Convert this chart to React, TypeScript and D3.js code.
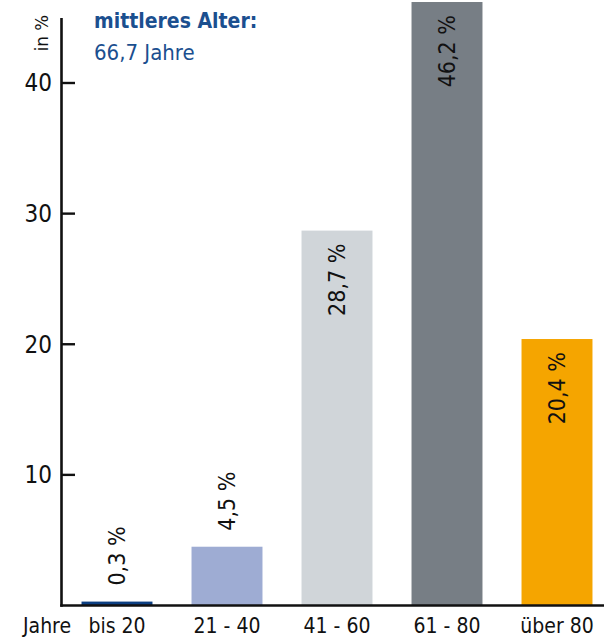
import React from "react";
import * as d3 from "d3";

// Altersverteilung in Prozent
const categories: string[] = ["bis 20", "21 - 40", "41 - 60", "61 - 80", "über 80"];
const values: number[] = [0.3, 4.5, 28.7, 46.2, 20.4];
const valueLabels: string[] = ["0,3 %", "4,5 %", "28,7 %", "46,2 %", "20,4 %"];
const colors: string[] = ["#0c3f82", "#9eacd3", "#d0d5d9", "#777e85", "#f5a500"];
const yTicks: number[] = [10, 20, 30, 40];
const titleLines: string[] = ["mittleres Alter:", "66,7 Jahre"];
const unitLabel = "in %";
const xAxisTitle = "Jahre";

const W = 604;
const H = 640;
const FONT = "'Liberation Sans Narrow', 'DejaVu Sans Condensed', 'DejaVu Sans', sans-serif";

export default function App() {
  const y = d3.scaleLinear().domain([0, 40]).range([605.5, 83]);
  const x = d3
    .scaleBand<string>()
    .domain(categories)
    .range([62, 612])
    .paddingInner(0.355)
    .paddingOuter(0.1775);
  const axisX = 61.5;
  const y0 = y(0);

  return (
    <svg
      width={W}
      height={H}
      style={{ position: "absolute", left: 0, top: 0, background: "#fff" }}
      fontFamily={FONT}
      fontStretch="condensed"
    >
      {/* bars */}
      {categories.map((c, i) => (
        <rect
          key={c}
          x={x(c)}
          y={y(values[i])}
          width={x.bandwidth()}
          height={y0 - y(values[i])}
          fill={colors[i]}
        />
      ))}

      {/* value labels, rotated; small bars get them above, tall bars inside */}
      {categories.map((c, i) => {
        const cx = (x(c) as number) + x.bandwidth() / 2;
        const top = y(values[i]);
        const inside = values[i] > 10;
        const py = inside ? top + 13 : top - 16;
        return (
          <text
            key={c + "-lbl"}
            transform={`translate(${cx + 8},${py}) rotate(-90)`}
            textAnchor={inside ? "end" : "start"}
            fontSize={23}
            fill="#111"
          >
            {valueLabels[i]}
          </text>
        );
      })}

      {/* y axis */}
      <line x1={axisX} x2={axisX} y1={18} y2={y0 + 1.2} stroke="#111" strokeWidth={2.6} />
      {yTicks.map((t) => (
        <g key={t}>
          <line x1={axisX} x2={75} y1={y(t)} y2={y(t)} stroke="#111" strokeWidth={2.4} />
          <text x={52} y={y(t)} dy="0.35em" textAnchor="end" fontSize={24} fill="#111">
            {t}
          </text>
        </g>
      ))}
      <text
        transform={`translate(${48},${15}) rotate(-90)`}
        textAnchor="end"
        fontSize={18.5}
        fill="#111"
      >
        {unitLabel}
      </text>

      {/* x axis */}
      <line x1={axisX - 1.3} x2={W} y1={y0} y2={y0} stroke="#111" strokeWidth={2.6} />
      {categories.map((c) => (
        <text
          key={c + "-tick"}
          x={(x(c) as number) + x.bandwidth() / 2}
          y={633}
          textAnchor="middle"
          fontSize={21}
          fill="#111"
        >
          {c}
        </text>
      ))}
      <text x={23} y={633} fontSize={21} fill="#111">
        {xAxisTitle}
      </text>

      {/* title */}
      <text x={94} y={28} fontSize={21} fontWeight="bold" fill="#1b4f8f">
        {titleLines[0]}
      </text>
      <text x={94} y={60} fontSize={22} fill="#1b4f8f">
        {titleLines[1]}
      </text>
    </svg>
  );
}
